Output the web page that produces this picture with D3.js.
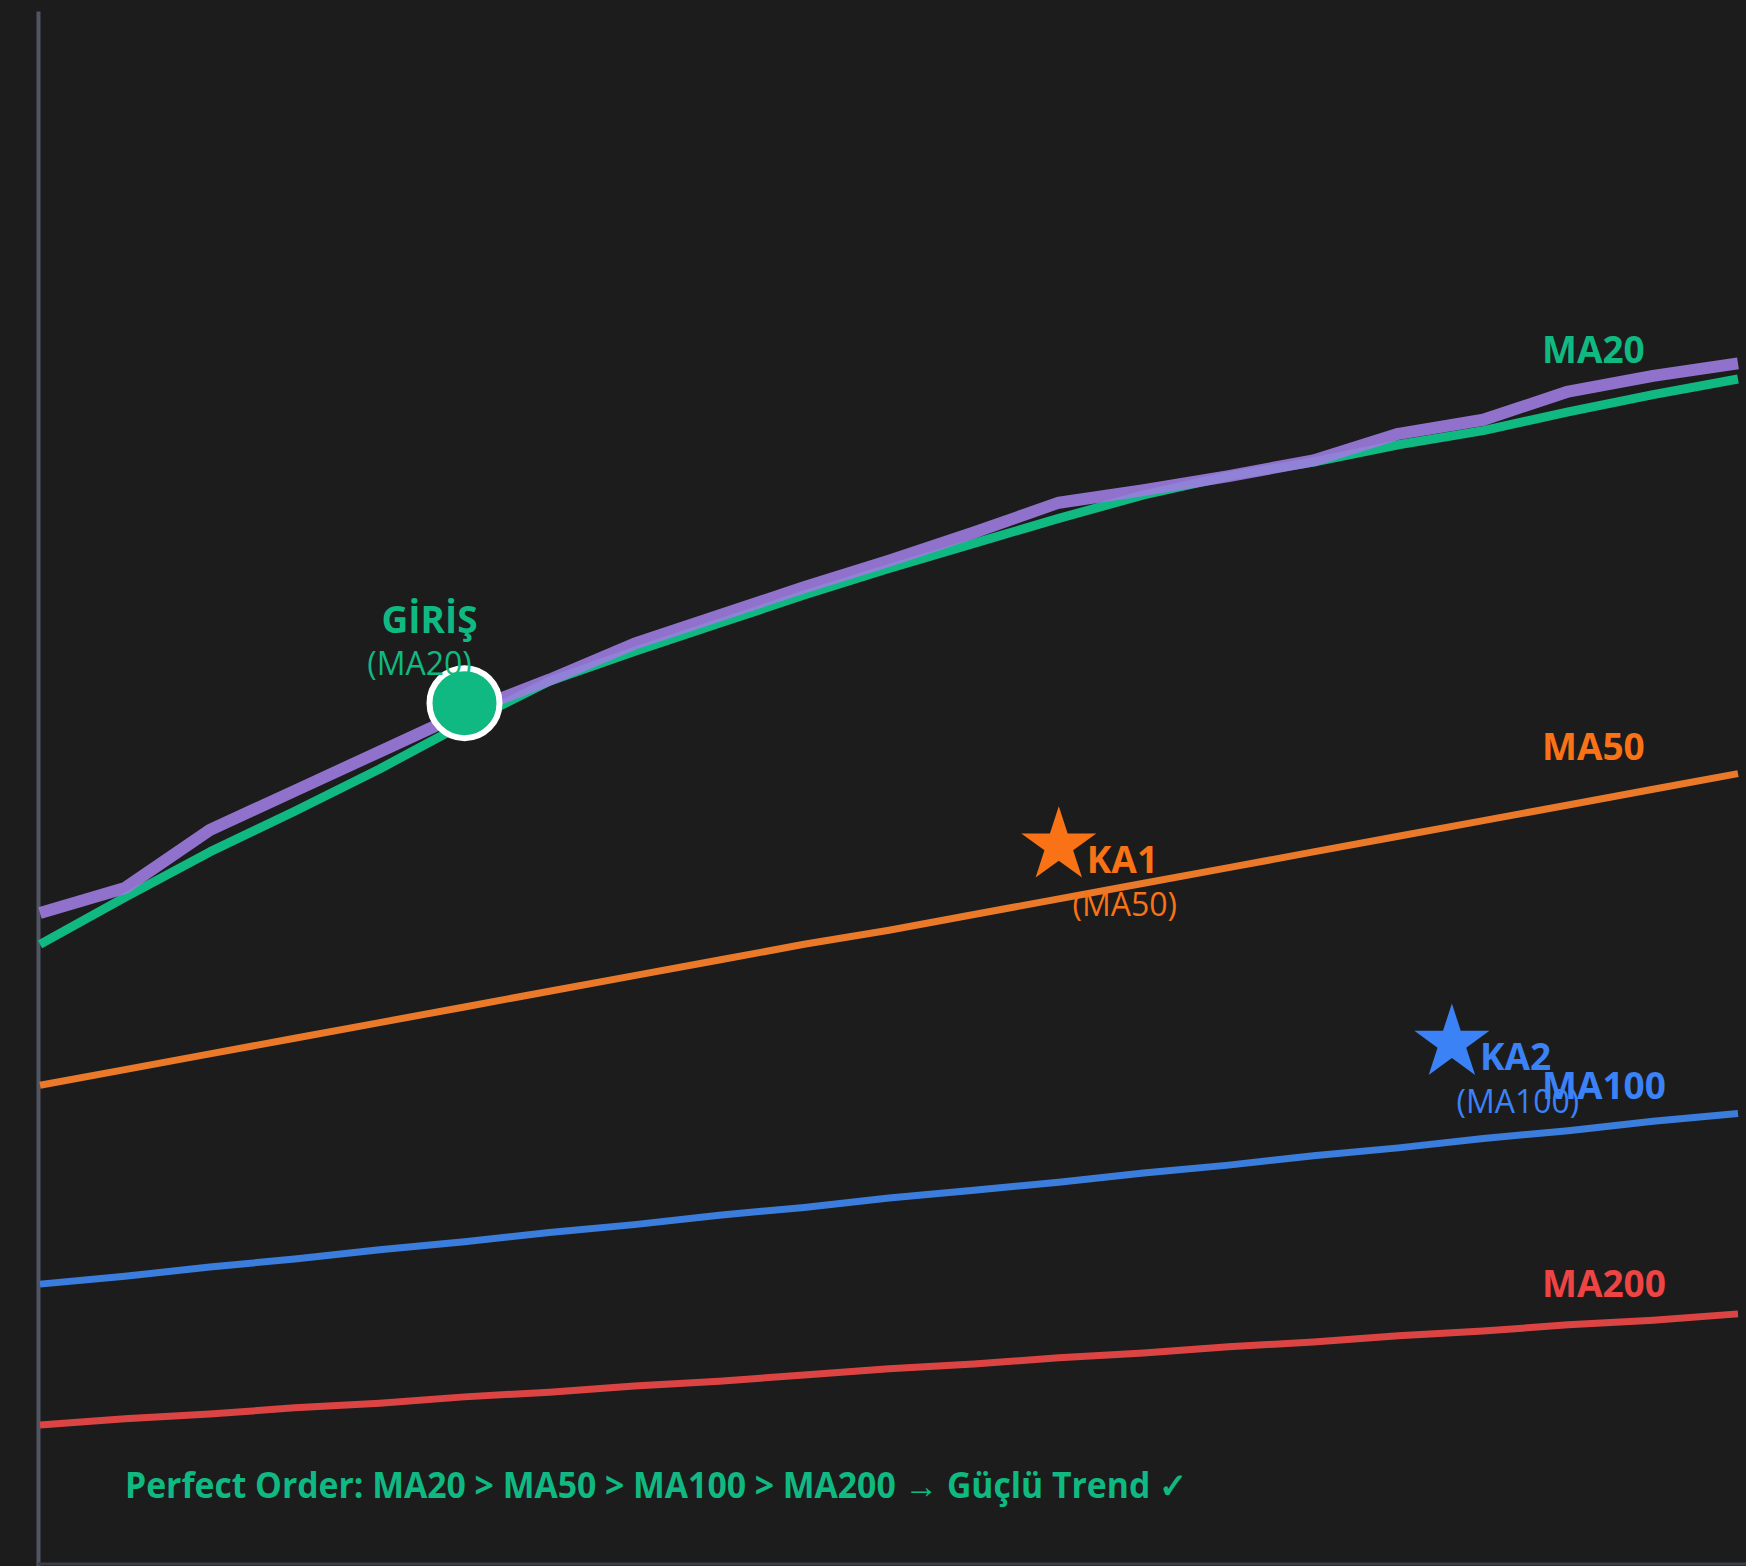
<!DOCTYPE html>
<html>
<head>
<meta charset="utf-8">
<script src="https://cdn.jsdelivr.net/npm/d3@7"></script>
<style>
  html, body { margin: 0; padding: 0; background: #1c1c1c; }
  svg { display: block; }
</style>
</head>
<body>
<script>
var width = 1746;
var height = 1566;

// price (purple) and moving averages, one value per bar
var days = d3.range(21);
var price = [121.7, 123.3, 127.0, 129.5, 132.0, 134.5, 136.6, 138.9, 140.7, 142.5, 144.2,
             146.0, 147.9, 148.7, 149.6, 150.6, 152.3, 153.2, 155.0, 156.0, 156.8];
var ma20 = [119.7, 122.7, 125.6, 128.2, 130.9, 133.8, 136.5, 138.4, 140.2, 142.0, 143.7,
            145.3, 146.9, 148.4, 149.6, 150.5, 151.6, 152.5, 153.7, 154.8, 155.8];
var ma50 = [110.7, 111.7, 112.7, 113.7, 114.7, 115.7, 116.7, 117.7, 118.7, 119.7, 120.6,
            121.6, 122.6, 123.6, 124.6, 125.6, 126.6, 127.6, 128.6, 129.6, 130.6];
var ma100 = [98.0, 98.5, 99.1, 99.6, 100.2, 100.7, 101.3, 101.8, 102.4, 102.9, 103.5,
             104.0, 104.5, 105.1, 105.6, 106.2, 106.7, 107.3, 107.8, 108.4, 108.9];
var ma200 = [89.0, 89.4, 89.7, 90.1, 90.4, 90.8, 91.1, 91.5, 91.8, 92.2, 92.6,
             92.9, 93.3, 93.6, 94.0, 94.3, 94.7, 95.0, 95.4, 95.7, 96.1];

// entry and take-profit points
var entry = {day: 5, value: 135.1, title: "GİRİŞ", sub: "(MA20)"};
var targets = [
  {day: 12, value: 126.0, title: "KA1", sub: "(MA50)", color: "#f97316"},
  {day: 16.63, value: 113.4, title: "KA2", sub: "(MA100)", color: "#3b82f6"}
];

var labelNames = ["MA20", "MA50", "MA100", "MA200"];
var labelValues = [156.8, 131.5, 109.8, 97.2];
var footer = "Perfect Order: MA20 > MA50 > MA100 > MA200 → Güçlü Trend ✓";

var series = [
  {values: ma200, color: "#dc4444", w: 7},
  {values: ma100, color: "#3b7ddd", w: 7},
  {values: ma50, color: "#ea7a2a", w: 7},
  {values: ma20, color: "#10b981", w: 9},
  {values: price, color: "#9d7ce0", w: 12, op: 0.9}
];
var labelColors = ["#10b981", "#f97316", "#3b82f6", "#ef4444"];

var x = d3.scaleLinear().domain([0, 20]).range([40, 1738]);
var y = d3.scaleLinear().domain([80, 179.3]).range([1566, 11]);

var svg = d3.select("body").append("svg")
    .attr("width", width)
    .attr("height", height)
    .style("font-family", "'Open Sans', sans-serif");

svg.append("rect").attr("width", width).attr("height", height).attr("fill", "#1c1c1c");

// axes, no ticks
svg.append("g")
    .attr("transform", "translate(38,0)")
    .call(d3.axisLeft(y).tickValues([]).tickSizeOuter(0))
    .select(".domain").attr("stroke", "#4f5563").attr("stroke-width", 4);
svg.append("line")
    .attr("x1", 38).attr("x2", width).attr("y1", 1564).attr("y2", 1564)
    .attr("stroke", "#3a3d48").attr("stroke-width", 3);

var line = d3.line()
    .x(function(d, i) { return x(days[i]); })
    .y(function(d) { return y(d); });

svg.append("g")
    .selectAll("path")
    .data(series)
    .enter()
    .append("path")
    .attr("d", function(d) { return line(d.values); })
    .attr("fill", "none")
    .attr("stroke", function(d) { return d.color; })
    .attr("stroke-width", function(d) { return d.w; })
    .attr("stroke-opacity", function(d) { return d.op || 1; })
    .attr("stroke-linejoin", "round");

// right side labels
svg.append("g")
    .selectAll("text")
    .data(labelNames)
    .enter()
    .append("text")
    .attr("x", 1542)
    .attr("y", function(d, i) { return y(labelValues[i]); })
    .attr("fill", function(d, i) { return labelColors[i]; })
    .attr("font-size", 37)
    .attr("font-weight", "bold")
    .text(function(d) { return d; });

// entry marker
var ex = x(entry.day), ey = y(entry.value);
svg.append("circle")
    .attr("cx", ex).attr("cy", ey).attr("r", 35)
    .attr("fill", "#10b981")
    .attr("stroke", "#ffffff").attr("stroke-width", 6);
svg.append("text")
    .attr("x", ex - 35).attr("y", ey - 70)
    .attr("text-anchor", "middle")
    .attr("fill", "#10b981")
    .attr("font-size", 37).attr("font-weight", "bold")
    .text(entry.title);
svg.append("text")
    .attr("x", ex - 45).attr("y", ey - 28)
    .attr("text-anchor", "middle")
    .attr("fill", "#10b981")
    .attr("font-size", 32)
    .text(entry.sub);

// take-profit stars
var star = d3.symbol().type(d3.symbolStar).size(1750);
var tg = svg.append("g")
    .selectAll("g")
    .data(targets)
    .enter()
    .append("g")
    .attr("transform", function(d) { return "translate(" + x(d.day) + "," + y(d.value) + ")"; });
tg.append("path")
    .attr("d", star)
    .attr("fill", function(d) { return d.color; });
tg.append("text")
    .attr("x", 28).attr("y", 27)
    .attr("fill", function(d) { return d.color; })
    .attr("font-size", 37).attr("font-weight", "bold")
    .text(function(d) { return d.title; });
tg.append("text")
    .attr("x", 66).attr("y", 70)
    .attr("text-anchor", "middle")
    .attr("fill", function(d) { return d.color; })
    .attr("font-size", 32)
    .text(function(d) { return d.sub; });

// footer note
svg.append("text")
    .attr("x", 125).attr("y", 1498)
    .attr("fill", "#10b981")
    .attr("font-size", 35).attr("font-weight", "bold")
    .attr("textLength", 1062)
    .attr("lengthAdjust", "spacingAndGlyphs")
    .text(footer);
</script>
</body>
</html>
